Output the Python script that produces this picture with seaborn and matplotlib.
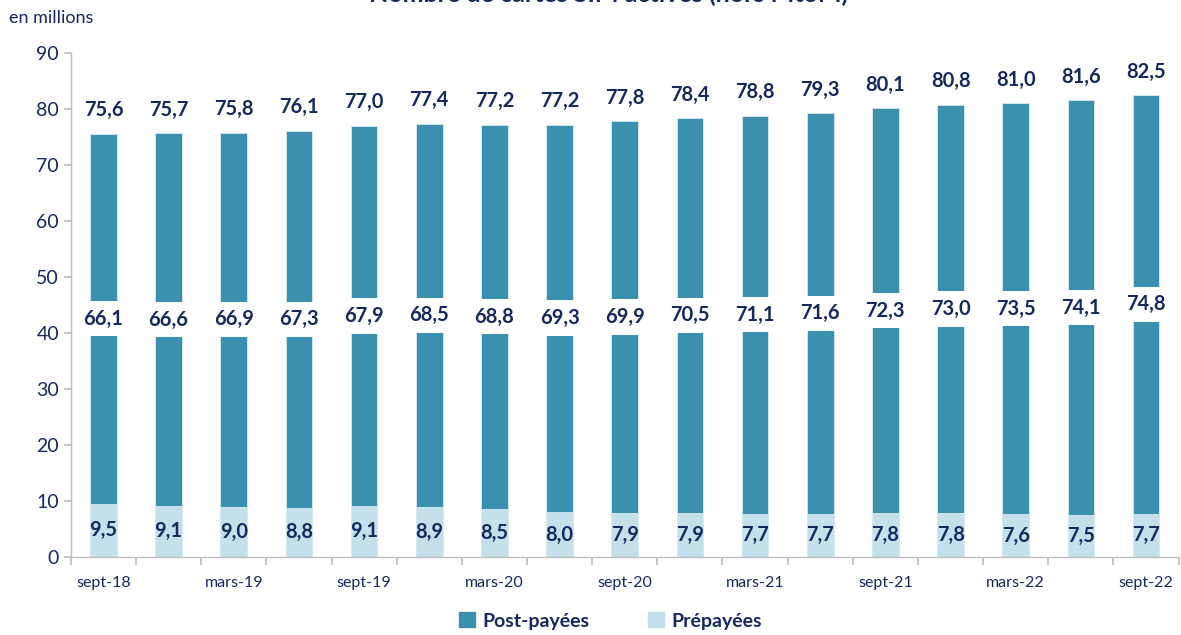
import pandas as pd
import numpy as np
import matplotlib.pyplot as plt
import seaborn as sns
from matplotlib.patches import Patch

sns.set_theme(style="white")
plt.rcParams['font.family'] = ['Lato', 'DejaVu Sans']

# data (millions of active SIM cards)
periodes = ['sept-18', 'déc-18', 'mars-19', 'juin-19', 'sept-19', 'déc-19', 'mars-20', 'juin-20',
            'sept-20', 'déc-20', 'mars-21', 'juin-21', 'sept-21', 'déc-21', 'mars-22', 'juin-22', 'sept-22']
post_payees = [66.1, 66.6, 66.9, 67.3, 67.9, 68.5, 68.8, 69.3, 69.9, 70.5, 71.1, 71.6, 72.3, 73.0, 73.5, 74.1, 74.8]
prepayees = [9.5, 9.1, 9.0, 8.8, 9.1, 8.9, 8.5, 8.0, 7.9, 7.9, 7.7, 7.7, 7.8, 7.8, 7.6, 7.5, 7.7]
totaux = [75.6, 75.7, 75.8, 76.1, 77.0, 77.4, 77.2, 77.2, 77.8, 78.4, 78.8, 79.3, 80.1, 80.8, 81.0, 81.6, 82.5]
tick_labels = ['sept-18', 'mars-19', 'sept-19', 'mars-20', 'sept-20', 'mars-21', 'sept-21', 'mars-22', 'sept-22']

c_post = '#3A90AE'
c_pre = '#C4E1EB'
navy = '#15295F'

def fr(v):
    return f"{v:.1f}".replace('.', ',')

df = pd.DataFrame({'periode': periodes, 'post': post_payees, 'pre': prepayees, 'total': totaux})
df['bas'] = df['pre'] + df['post'] / 2

fig = plt.figure(figsize=(11.81, 6.35), dpi=100)
ax = fig.add_axes([0.060, 0.123, 0.938, 0.7935])

sns.barplot(data=df, x='periode', y='total', color=c_post, width=0.41, saturation=1,
            edgecolor='#D8ECF2', linewidth=0.6, ax=ax)
sns.barplot(data=df, x='periode', y='pre', color=c_pre, width=0.41, saturation=1,
            edgecolor='#D8ECF2', linewidth=0.6, ax=ax)

for i, row in df.iterrows():
    ax.text(i, row['total'] + 2.4, fr(row['total']), ha='center', va='bottom',
            fontsize=14.5, fontweight='bold', color=navy)
    # label with white fill cuts the post-paid bar (as in the original)
    ax.text(i, row['bas'], fr(row['post']), ha='center', va='center',
            fontsize=14.5, fontweight='bold', color=navy,
            bbox=dict(boxstyle='square,pad=0.38', fc='white', ec='none'))
    ax.text(i, row['pre'] / 2, fr(row['pre']), ha='center', va='center',
            fontsize=14.5, fontweight='bold', color=navy)

ax.set_ylim(0, 90)
ax.set_xlim(-0.5, len(periodes) - 0.5)
ax.set_yticks(np.arange(0, 91, 10))
ax.tick_params(axis='y', labelsize=14, labelcolor=navy, length=5, color='#BFBFBF', direction='out', left=True)
ax.set_xticks(np.arange(-0.5, len(periodes), 1), minor=False)
ax.set_xticklabels([])
ax.set_xticks(np.arange(0, len(periodes), 2), minor=True)
ax.set_xticklabels(tick_labels, minor=True)
ax.tick_params(axis='x', which='major', length=6, color='#BFBFBF', bottom=True, direction='out')
ax.tick_params(axis='x', which='minor', length=0, labelsize=11.5, labelcolor=navy, pad=14)
ax.set_xlabel('')
ax.set_ylabel('')
for s in ['top', 'right']:
    ax.spines[s].set_visible(False)
for s in ['left', 'bottom']:
    ax.spines[s].set_color('#BFBFBF')
    ax.spines[s].set_linewidth(1)

fig.text(0.008, 0.972, 'en millions', fontsize=13, color=navy, va='center', ha='left')
# title is cropped at the top edge in the original
fig.text(0.515, 1.009, 'Nombre de cartes SIM actives (hors MtoM)', fontsize=18, fontweight='bold',
         color=navy, ha='center', va='center')

handles = [Patch(color=c_post, label='Post-payées'), Patch(color=c_pre, label='Prépayées')]
leg = fig.legend(handles=handles, loc='center', bbox_to_anchor=(0.517, 0.022), ncol=2, frameon=False,
                 handlelength=0.8, handleheight=0.8, handletextpad=0.4, columnspacing=3.0,
                 prop={'size': 14, 'weight': 'bold'})
for t in leg.get_texts():
    t.set_color(navy)

fig.savefig('out.png', dpi=100)
